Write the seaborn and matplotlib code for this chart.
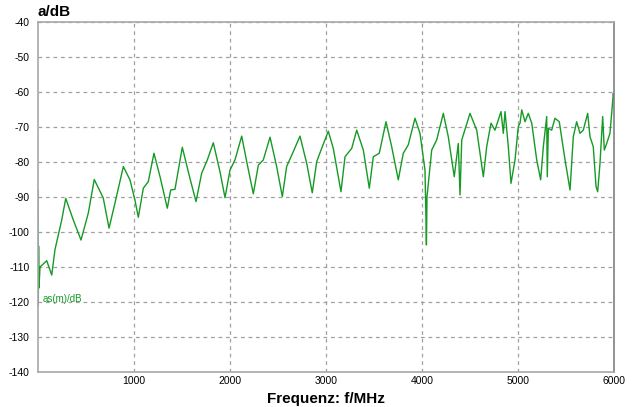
import matplotlib
matplotlib.use("Agg")
import matplotlib.pyplot as plt
import seaborn as sns
import pandas as pd

freq_mhz = [0, 3, 6, 10, 21, 91, 143, 177, 247, 289, 368, 448, 524, 586, 680, 740, 802, 889,
            958, 1010, 1045, 1097, 1149, 1208, 1271, 1347, 1382, 1427, 1503, 1583, 1646, 1705,
            1764, 1826, 1896, 1948, 2000, 2052, 2122, 2174, 2243, 2295, 2347, 2417, 2486, 2545,
            2590, 2660, 2729, 2799, 2857, 2903, 2955, 3024, 3076, 3128, 3156, 3198, 3268, 3320,
            3389, 3451, 3493, 3555, 3625, 3684, 3753, 3805, 3857, 3927, 3979, 4031, 4040, 4046,
            4052, 4101, 4153, 4222, 4274, 4336, 4378, 4396, 4414, 4500, 4570, 4639, 4674, 4719,
            4760, 4823, 4847, 4865, 4899, 4927, 4969, 5003, 5021, 5039, 5073, 5107, 5143, 5195,
            5236, 5264, 5299, 5305, 5316, 5351, 5385, 5430, 5490, 5542, 5576, 5611, 5646, 5680,
            5726, 5750, 5784, 5813, 5830, 5854, 5882, 5899, 5924, 5958, 5993, 6000]
level_db = [-88, -121, -104, -116, -110, -108.2, -112.3, -105, -96.6, -90.4, -96.6, -102.3, -94.6,
            -85, -90.3, -98.9, -91.7, -81.3, -85.1, -90.9, -95.8, -87.5, -85.6, -77.5, -84.2,
            -93.2, -88, -87.8, -75.8, -84.7, -91.3, -83.2, -79.4, -74.5, -82.8, -90.2, -82.3,
            -79.4, -72.6, -79.9, -89.1, -80.9, -79.4, -72.9, -81.3, -89.9, -81.3, -77, -72.6,
            -80.4, -88.8, -79.9, -76.1, -71.2, -76.1, -84.2, -88.5, -78.5, -76.1, -70.9, -76.6,
            -87.5, -78.5, -77.5, -68.5, -75.6, -85.1, -77.5, -75.1, -67.5, -71.8, -82.3, -94.2,
            -103.7, -90, -76.6, -73.7, -66.1, -72.8, -84.2, -74.7, -89.4, -73.7, -66.1, -70.9,
            -84.2, -75.6, -68.9, -70.9, -65.6, -71.8, -65.6, -75.6, -86.1, -79.4, -69.9, -68.9,
            -65.1, -68.5, -66.1, -68.9, -79.4, -85.1, -75.6, -67, -84.2, -70.4, -70.9, -67.5,
            -68.5, -79.4, -88, -72.8, -68.5, -71.8, -70.9, -66.1, -72.8, -75.6, -87, -88.5,
            -80.4, -67, -76.6, -74.7, -71.8, -60.4, -62]
x_ticks = [1000, 2000, 3000, 4000, 5000, 6000]
y_ticks = [-40, -50, -60, -70, -80, -90, -100, -110, -120, -130, -140]

df = pd.DataFrame({"f": freq_mhz, "a": level_db})

sns.set_style("white")
plt.rcParams["font.family"] = ["Liberation Sans", "DejaVu Sans"]
plt.rcParams["text.color"] = "black"
plt.rcParams["axes.labelcolor"] = "black"

fig = plt.figure(figsize=(6.33, 4.07), dpi=100)
ax = fig.add_axes([38 / 633, 1 - 372 / 407, (614 - 38) / 633, (372 - 22) / 407])

sns.lineplot(data=df, x="f", y="a", ax=ax, color="#159a25", linewidth=1.0)

ax.set_xlim(0, 6000)
ax.set_ylim(-140, -40)
ax.set_xticks(x_ticks)
ax.set_xticklabels([str(v) for v in x_ticks])
ax.set_yticks(y_ticks)
ax.set_yticklabels([str(v) for v in y_ticks])
ax.tick_params(axis="both", length=0, labelsize=7.5, colors="#000000")
ax.tick_params(axis="x", pad=3)
ax.tick_params(axis="y", pad=6)
ax.grid(True, color="#a0a0a0", linestyle=(0, (3, 3)), linewidth=0.9)
for s in ["left", "bottom", "top"]:
    ax.spines[s].set_color("#a8a8a8")
    ax.spines[s].set_linewidth(1.2)
ax.spines["right"].set_color("#808080")
ax.spines["right"].set_linewidth(1.2)

ax.set_xlabel("Frequenz: f/MHz", fontsize=11, fontweight="bold", labelpad=4, color="black")
ax.set_ylabel("")
fig.text(38 / 633, 1 - 12 / 407, "a/dB", fontsize=11, fontweight="bold", ha="left", va="center",
         color="black")
ax.text(43, -119, "as(m)/dB", fontsize=7, color="#159a25", ha="left", va="center",
        transform=ax.transData)

fig.savefig("out.png", dpi=100)
